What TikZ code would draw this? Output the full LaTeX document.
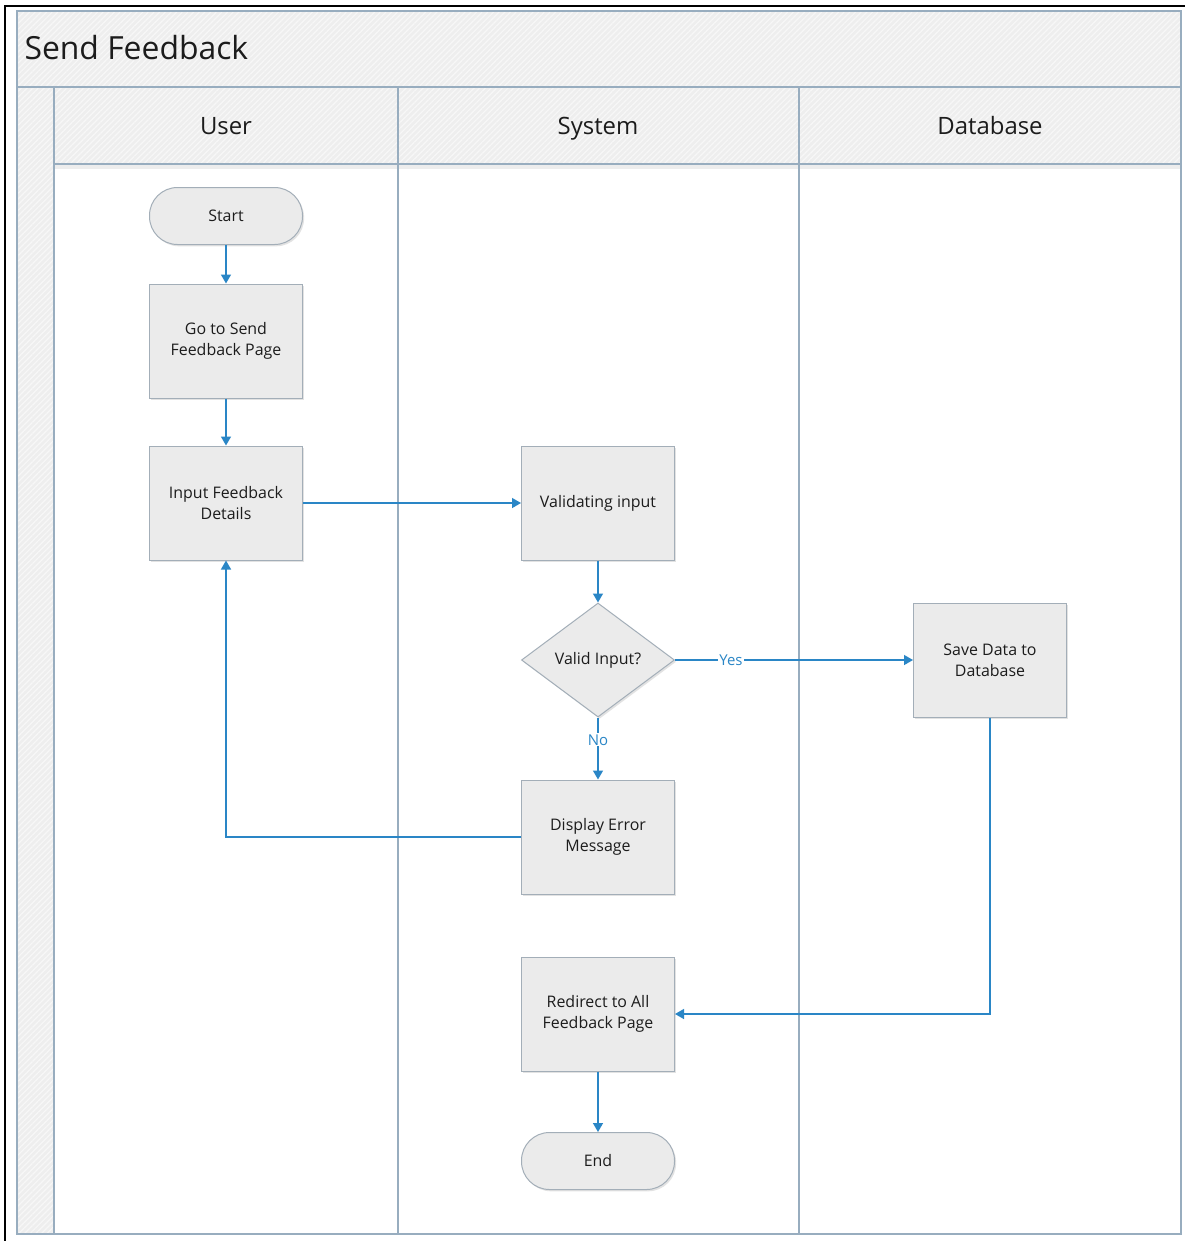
\documentclass[tikz,border=0pt]{standalone}
\usepackage{fontspec}
\setmainfont{Open Sans}
\usetikzlibrary{arrows.meta,shapes.geometric,shadows,patterns.meta}

\definecolor{laneline}{HTML}{98ADBF}
\definecolor{bandfill}{HTML}{EEEEEE}
\definecolor{boxfill}{HTML}{EBEBEB}
\definecolor{boxline}{HTML}{A3AEB8}
\definecolor{flowblue}{HTML}{2A86C6}
\definecolor{inkdark}{HTML}{1C1C1C}

\tikzset{
  x=1bp, y=-1bp,
  bandbg/.style={fill=bandfill},
  hatch/.style={pattern={Lines[angle=45,distance=4bp,line width=1.2bp]}, pattern color=white!55!bandfill},
  rule/.style={draw=laneline, line width=1.6bp},
  boxbase/.style={draw=boxline, line width=1bp, fill=boxfill, text=inkdark,
    font=\fontsize{16}{21}\selectfont, align=center, inner sep=2bp,
    drop shadow={shadow xshift=1.6bp, shadow yshift=-1.8bp, fill=black!22, opacity=0.5}},
  process/.style={boxbase, rectangle, minimum width=153bp, minimum height=114bp},
  terminal/.style={boxbase, rectangle, rounded corners=28bp, minimum width=153bp, minimum height=57bp},
  decision/.style={boxbase, diamond, minimum width=153bp, minimum height=114bp, inner sep=0bp},
  flow/.style={draw=flowblue, line width=1.4bp, -{Triangle[length=9bp,width=10bp]}},
  branch/.style={text=flowblue, fill=white, inner sep=1bp, font=\fontsize{15}{18}\selectfont},
  lanetitle/.style={text=inkdark, font=\fontsize{24}{28}\selectfont, text height=17bp, text depth=5bp},
}

\begin{document}
\begin{tikzpicture}
\useasboundingbox (0,0) rectangle (1185,1241);
\fill[white] (0,0) rectangle (1185,1241);

% screenshot frame (top and left edges)
\draw[black, line width=2bp] (5,1241) -- (5,6) -- (1185,6);

% pool title band, left strip and lane headers: fill, hatch
\path[bandbg] (17,11) rectangle (1181,164);
\path[bandbg] (17,164) rectangle (54,1234);
\path[hatch] (17,11) rectangle (1181,164);
\path[hatch] (17,164) rectangle (54,1234);
\fill[black!7] (55,165) rectangle (1180,169);

% pool frame, lane separators and header rules
\draw[rule] (17,11) rectangle (1181,1234);
\draw[rule] (17,87) -- (1181,87);
\draw[rule] (54,164) -- (1181,164);
\draw[rule] (54,87) -- (54,1234);
\draw[rule] (398,87) -- (398,1234);
\draw[rule] (799,87) -- (799,1234);

\node[anchor=west, text=inkdark, font=\fontsize{32}{38}\selectfont] (pooltitle) at (21,48) {Send Feedback};
\node[lanetitle] (laneuser) at (226,128) {User};
\node[lanetitle] (lanesys) at (598,128) {System};
\node[lanetitle] (lanedb) at (990,128) {Database};

% flow nodes
\node[terminal] (start) at (226,216) {Start};
\node[process] (gopage) at (226,341) {Go to Send\\Feedback Page};
\node[process] (input) at (226,503) {Input Feedback\\Details};
\node[process] (check) at (598,503) {Validating input};
\node[decision] (valid) at (598,660) {Valid Input?};
\node[process] (error) at (598,837) {Display Error\\Message};
\node[process] (save) at (990,660) {Save Data to\\Database};
\node[process] (redirect) at (598,1014) {Redirect to All\\Feedback Page};
\node[terminal] (finish) at (598,1161) {End};

% connectors
\draw[flow] (start) -- (gopage);
\draw[flow] (gopage) -- (input);
\draw[flow] (input) -- (check);
\draw[flow] (check) -- (valid);
\draw[flow] (valid) -- node[branch, pos=0.235] {Yes} (save);
\draw[flow] (valid) -- node[branch, pos=0.36] {No} (error);
\draw[flow] (error.west) -| (input.south);
\draw[flow] (save.south) |- (redirect.east);
\draw[flow] (redirect) -- (finish);
\end{tikzpicture}
\end{document}
